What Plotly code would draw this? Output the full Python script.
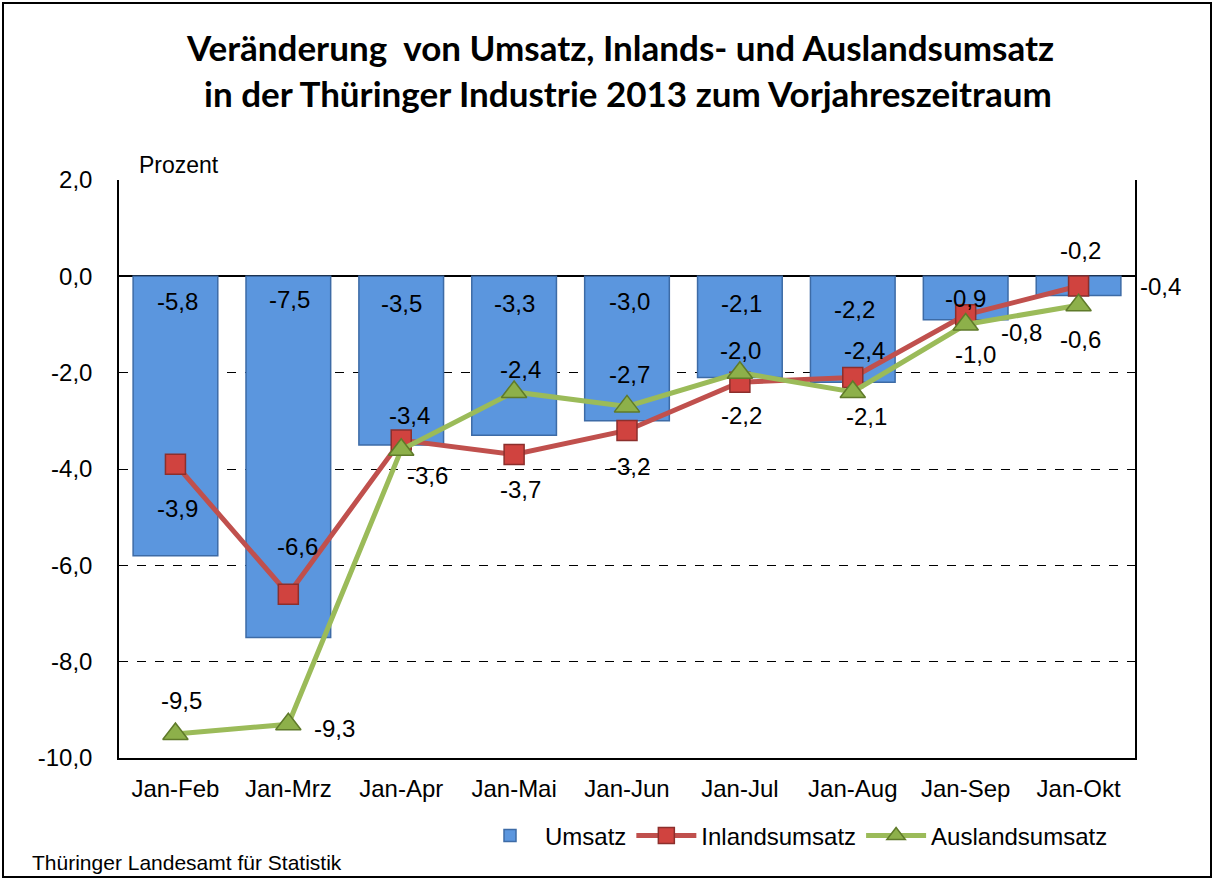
import plotly.graph_objects as go

categories = ["Jan-Feb", "Jan-Mrz", "Jan-Apr", "Jan-Mai", "Jan-Jun", "Jan-Jul", "Jan-Aug", "Jan-Sep", "Jan-Okt"]
umsatz = [-5.8, -7.5, -3.5, -3.3, -3.0, -2.1, -2.2, -0.9, -0.4]
inland = [-3.9, -6.6, -3.4, -3.7, -3.2, -2.2, -2.1, -0.8, -0.2]
ausland = [-9.5, -9.3, -3.6, -2.4, -2.7, -2.0, -2.4, -1.0, -0.6]
y_ticks = [-10, -8, -6, -4, -2, 0, 2]

# label offsets (pixels) - style only
ums_off = [(2, -25), (1, -23), (0, -27), (0, -27), (2, -25), (2, -27), (2, -33), (0, -22), (82, -10)]
inl_off = [(2, -44), (9, 48), (8, 25), (6, -35), (2, -36), (2, -33), (14, -39), (56, -18), (2, 35)]
aus_off = [(6, 33), (46, -4), (26, -26), (6, 22), (2, 32), (1, 22), (12, 41), (10, -30), (2, -34)]

def fmt(v):
    return f"{v:.1f}".replace(".", ",")

FONT = "Liberation Sans, Arial, sans-serif"
FS = 24

fig = go.Figure()
fig.add_trace(go.Bar(
    x=categories, y=umsatz, name="Umsatz", width=0.75,
    marker=dict(color="#5B96DE", line=dict(color="#3D6BA6", width=1.5)),
))
fig.add_trace(go.Scatter(
    x=categories, y=inland, name="Inlandsumsatz", mode="lines+markers",
    line=dict(color="#C0504D", width=5),
    marker=dict(symbol="square", size=20, color="#D0433F", line=dict(color="#8C2F2C", width=1.5)),
))
fig.add_trace(go.Scatter(
    x=categories, y=ausland, name="Auslandsumsatz", mode="lines+markers",
    line=dict(color="#9BBB59", width=5),
    marker=dict(symbol="triangle-up", size=22, color="#8DB04A", line=dict(color="#5F7A2A", width=1.5)),
))

ann = []
for i, c in enumerate(categories):
    dx, dy = ums_off[i]
    ann.append(dict(x=c, y=0, text=fmt(umsatz[i]), showarrow=False, xshift=dx, yshift=dy,
                    font=dict(family=FONT, size=FS, color="black")))
    dx, dy = inl_off[i]
    ann.append(dict(x=c, y=inland[i], text=fmt(inland[i]), showarrow=False, xshift=dx, yshift=dy,
                    font=dict(family=FONT, size=FS, color="black")))
    dx, dy = aus_off[i]
    ann.append(dict(x=c, y=ausland[i], text=fmt(ausland[i]), showarrow=False, xshift=dx, yshift=dy,
                    font=dict(family=FONT, size=FS, color="black")))

# titles and texts
ann.append(dict(xref="paper", yref="paper", x=(620 - 119) / 1016, y=(758 - 47) / 578,
                text="<b>Veränderung\u00a0 von Umsatz, Inlands- und Auslandsumsatz</b>", showarrow=False,
                xanchor="center", yanchor="middle", font=dict(family="Lato", size=35, color="black")))
ann.append(dict(xref="paper", yref="paper", x=(628 - 119) / 1016, y=(758 - 93) / 578,
                text="<b>in der Thüringer Industrie 2013 zum Vorjahreszeitraum</b>", showarrow=False,
                xanchor="center", yanchor="middle", font=dict(family="Lato", size=35, color="black")))
ann.append(dict(xref="paper", yref="paper", x=(137 - 119) / 1016, y=(758 - 165) / 578,
                text="Prozent", showarrow=False, xanchor="left", yanchor="middle",
                font=dict(family=FONT, size=23, color="black")))
ann.append(dict(xref="paper", yref="paper", x=(30 - 119) / 1016, y=(758 - 862) / 578,
                text="Thüringer Landesamt für Statistik", showarrow=False, xanchor="left", yanchor="middle",
                font=dict(family=FONT, size=21, color="black")))

fig.update_layout(
    width=1215, height=879,
    margin=dict(l=119, r=80, t=180, b=121),
    paper_bgcolor="white", plot_bgcolor="white",
    annotations=ann,
    showlegend=True,
    legend=dict(orientation="h", x=(794 - 119) / 1016, xanchor="center",
                y=(758 - 836) / 578, yanchor="middle",
                font=dict(family=FONT, size=FS, color="black"), itemwidth=60),
    shapes=[dict(type="rect", xref="paper", yref="paper",
                 x0=(3 - 119) / 1016, x1=(1211 - 119) / 1016,
                 y0=(758 - 877) / 578, y1=(758 - 3) / 578,
                 line=dict(color="black", width=2), fillcolor="rgba(0,0,0,0)")],
)
fig.update_xaxes(range=[-0.5, len(categories) - 0.5], showline=True, linecolor="black", linewidth=1.5,
                 ticks="", showgrid=False, ticklabelstandoff=8,
                 tickfont=dict(family=FONT, size=FS, color="black"))
fig.update_yaxes(range=[-10, 2], tickvals=y_ticks, ticktext=[fmt(v) for v in y_ticks],
                 showline=True, mirror=True, linecolor="black", linewidth=1.5, ticks="",
                 showgrid=True, gridcolor="black", griddash="dash", gridwidth=1,
                 zeroline=True, zerolinecolor="black", zerolinewidth=1.5, ticklabelstandoff=20,
                 tickfont=dict(family=FONT, size=FS, color="black"))

fig.write_html("out.html", config={"displayModeBar": False},
               post_script="document.body.style.margin='0';")
